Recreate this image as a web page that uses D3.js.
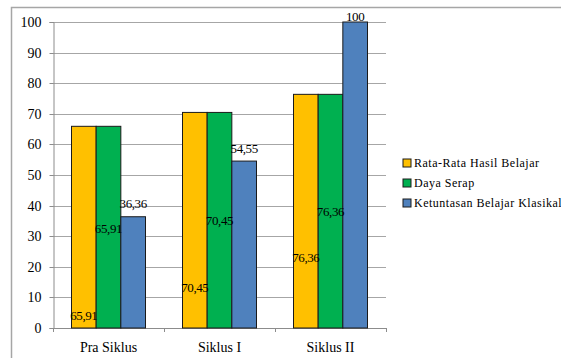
<!DOCTYPE html>
<html>
<head>
<meta charset="utf-8">
<script src="https://cdn.jsdelivr.net/npm/d3@7"></script>
<style>
  body { margin: 0; background: #fff; }
  svg { display: block; font-family: "Liberation Serif", "DejaVu Serif", serif; }
</style>
</head>
<body>
<svg id="chart" width="561" height="358"></svg>
<script>
// Data
const categories = ["Pra Siklus", "Siklus I", "Siklus II"];
const seriesNames = ["Rata-Rata Hasil Belajar", "Daya Serap", "Ketuntasan Belajar Klasikal"];
const rataRata = [65.91, 70.45, 76.36];
const dayaSerap = [65.91, 70.45, 76.36];
const ketuntasan = [36.36, 54.55, 100];
const valueLabels = [
  ["65,91", "70,45", "76,36"],
  ["65,91", "70,45", "76,36"],
  ["36,36", "54,55", "100"]
];
// where each data label sits, in axis units
const labelAt = [
  [4.2, 13.1, 23.2],
  [32.5, 35.2, 38.2],
  [40.8, 58.8, 101.8]
];
const yTicks = [0, 10, 20, 30, 40, 50, 60, 70, 80, 90, 100];

// Series colours
const colors = ["#ffc000", "#00b050", "#4f81bd"];
const serif = '"Liberation Serif", "DejaVu Serif", serif';

const svg = d3.select("#chart");
const margin = { left: 53, top: 22, right: 386, bottom: 328 };

// outer frame
svg.append("rect")
  .attr("x", 11.5).attr("y", 7.5)
  .attr("width", 600).attr("height", 400)
  .attr("fill", "none")
  .attr("stroke", "#a6a6a6")
  .attr("stroke-width", 1.5);

const x0 = d3.scaleBand()
  .domain(categories)
  .range([margin.left, margin.right])
  .padding(0);

// Excel-like gap: group is 2/3 of category
const groupPad = x0.step() / 6;
const x1 = d3.scaleBand()
  .domain(d3.range(3))
  .range([0, x0.step() * 2 / 3]);

const y = d3.scaleLinear().domain([0, 100]).range([margin.bottom, margin.top]);

// gridlines
svg.append("g")
  .selectAll("line")
  .data(yTicks.filter(d => d > 0))
  .enter()
  .append("line")
  .attr("x1", margin.left).attr("x2", margin.right)
  .attr("y1", d => Math.round(y(d)) + 0.5).attr("y2", d => Math.round(y(d)) + 0.5)
  .attr("stroke", "#a6a6a6")
  .attr("stroke-width", 1.2);

// y axis
const yAxis = svg.append("g")
  .attr("transform", `translate(${margin.left + 0.5},0)`)
  .call(d3.axisLeft(y).tickValues(yTicks).tickSize(4).tickPadding(8).tickFormat(d3.format("d")));
yAxis.attr("font-family", serif);
yAxis.select(".domain").attr("stroke", "#8c8c8c");
yAxis.selectAll(".tick line").attr("stroke", "#8c8c8c");
yAxis.selectAll("text").style("font-family", serif).style("font-size", "14px").attr("fill", "#000");
yAxis.selectAll(".tick").attr("transform", d => `translate(0,${Math.round(y(d)) + 0.5})`);

// x axis
const xAxisG = svg.append("g");
xAxisG.append("line")
  .attr("x1", margin.left).attr("x2", margin.right)
  .attr("y1", margin.bottom + 0.5).attr("y2", margin.bottom + 0.5)
  .attr("stroke", "#8c8c8c");
xAxisG.selectAll("line.tick")
  .data(categories.concat([null]))
  .enter()
  .append("line")
  .attr("class", "tick")
  .attr("x1", (d, i) => Math.round(margin.left + i * x0.step()) + 0.5)
  .attr("x2", (d, i) => Math.round(margin.left + i * x0.step()) + 0.5)
  .attr("y1", margin.bottom).attr("y2", margin.bottom + 4)
  .attr("stroke", "#8c8c8c");
xAxisG.selectAll("text")
  .data(categories)
  .enter()
  .append("text")
  .attr("x", d => x0(d) + x0.bandwidth() / 2)
  .attr("y", 352)
  .attr("text-anchor", "middle")
  .style("font-size", "14px")
  .text(d => d);

// bars
const series = [rataRata, dayaSerap, ketuntasan];
const groups = svg.append("g")
  .selectAll("g")
  .data(categories)
  .enter()
  .append("g")
  .attr("transform", d => `translate(${x0(d) + groupPad},0)`);

groups.selectAll("rect")
  .data((d, i) => series.map((s, k) => ({ k, v: s[i] })))
  .enter()
  .append("rect")
  .attr("x", d => x1(d.k))
  .attr("y", d => y(d.v))
  .attr("width", x1.bandwidth())
  .attr("height", d => y(0) - y(d.v))
  .attr("fill", d => colors[d.k])
  .attr("stroke", "#1a1a1a")
  .attr("stroke-width", 1);

// data labels
groups.selectAll("text")
  .data((d, i) => series.map((s, k) => ({ k, lab: valueLabels[k][i], at: labelAt[k][i] })))
  .enter()
  .append("text")
  .attr("x", d => x1(d.k) + x1.bandwidth() / 2)
  .attr("y", d => y(d.at))
  .attr("dy", "0.35em")
  .attr("text-anchor", "middle")
  .style("font-size", "13px")
  .style("letter-spacing", "-0.4px")
  .text(d => d.lab);

// legend
const legend = svg.append("g")
  .attr("transform", "translate(403, 163)");

legend.selectAll("rect")
  .data(seriesNames)
  .enter()
  .append("rect")
  .attr("x", 0)
  .attr("y", (d, i) => i * 20 - 4)
  .attr("width", 8)
  .attr("height", 8)
  .attr("fill", (d, i) => colors[i])
  .attr("stroke", "#1a1a1a")
  .attr("stroke-width", 1);

legend.selectAll("text")
  .data(seriesNames)
  .enter()
  .append("text")
  .attr("x", 11)
  .attr("y", (d, i) => i * 20)
  .attr("dy", "0.35em")
  .style("font-size", "12px")
  .style("letter-spacing", "0.5px")
  .text(d => d);
</script>
</body>
</html>
